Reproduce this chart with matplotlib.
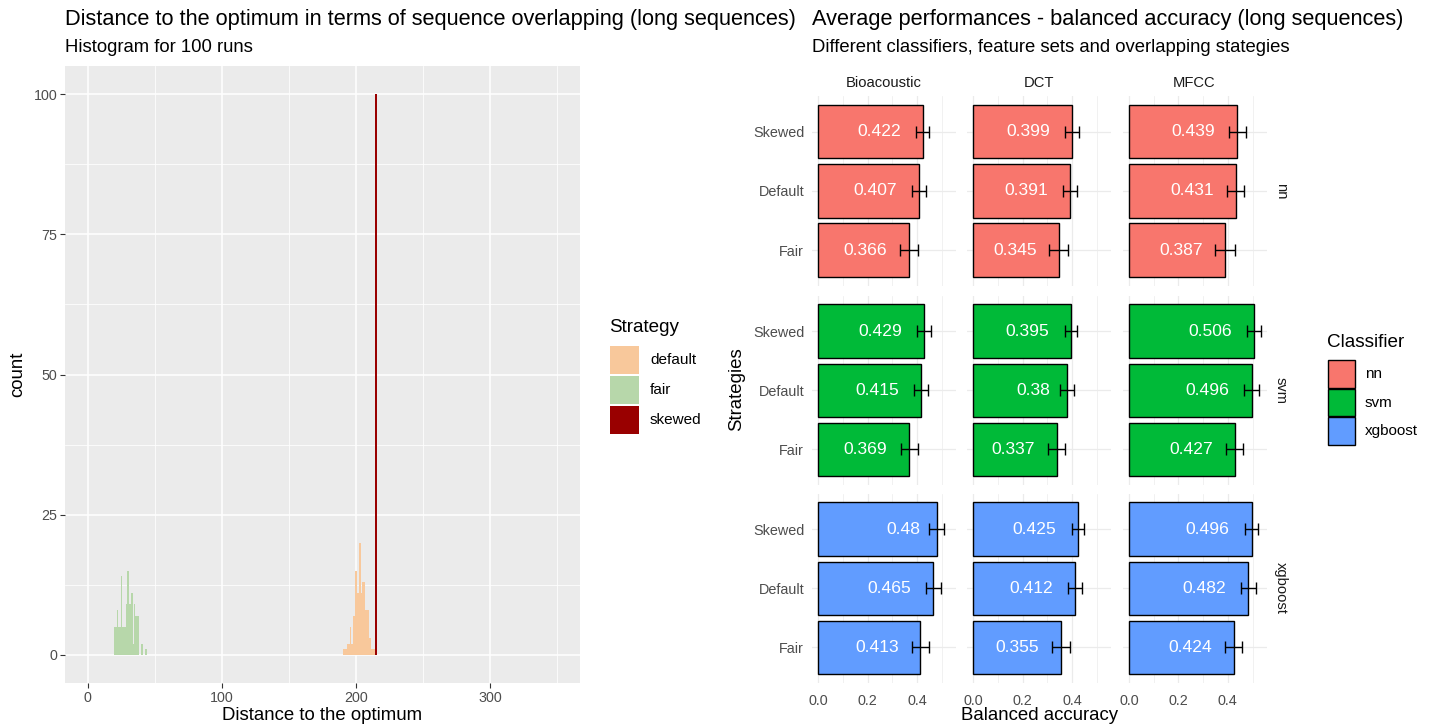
import matplotlib
matplotlib.use('Agg')
import matplotlib.pyplot as plt
from matplotlib.patches import Rectangle

plt.rcParams['font.family'] = ['Liberation Sans', 'DejaVu Sans']

W, H = 1429, 727

# --- histogram: distance to the optimum -> count ---
fair_dist = [20, 21, 22, 23, 24, 25, 26, 27, 28, 29, 30, 31, 32, 33, 34, 35, 36, 37, 38, 40, 41, 43, 44]
fair_count = [5, 5, 8, 5, 5, 14, 5, 5, 5, 9, 15, 9, 9, 11, 2, 9, 7, 7, 7, 2, 2, 1, 1]
default_dist = [191, 192, 193, 194, 195, 196, 197, 198, 199, 200, 201, 202, 203, 204, 205, 206,
                207, 208, 209, 210, 211, 212, 213, 214]
default_count = [1, 1, 1, 2, 2, 5, 2, 7, 7, 15, 11, 11, 20, 11, 13, 13, 8, 8, 8, 3, 3, 1, 1, 1]
skewed_dist = [215]
skewed_count = [100]

# --- balanced accuracy: order Skewed, Default, Fair ---
strategies = ['Skewed', 'Default', 'Fair']
feature_sets = ['Bioacoustic', 'DCT', 'MFCC']
classifiers = ['nn', 'svm', 'xgboost']
nn_acc = [[0.422, 0.407, 0.366], [0.399, 0.391, 0.345], [0.439, 0.431, 0.387]]
nn_err = [[0.028, 0.028, 0.036], [0.027, 0.028, 0.040], [0.034, 0.034, 0.040]]
svm_acc = [[0.429, 0.415, 0.369], [0.395, 0.380, 0.337], [0.506, 0.496, 0.427]]
svm_err = [[0.028, 0.028, 0.035], [0.025, 0.028, 0.035], [0.028, 0.030, 0.035]]
xgb_acc = [[0.480, 0.465, 0.413], [0.425, 0.412, 0.355], [0.496, 0.482, 0.424]]
xgb_err = [[0.030, 0.030, 0.035], [0.025, 0.028, 0.035], [0.025, 0.030, 0.035]]
clf_colors = ['#F8766D', '#00BA38', '#619CFF']


def px_axes(fig, x0, y0, x1, y1):
    return fig.add_axes([x0 / W, 1 - y1 / H, (x1 - x0) / W, (y1 - y0) / H])


def fx(x):
    return x / W


def fy(y):
    return 1 - y / H


fig = plt.figure(figsize=(W / 100, H / 100), dpi=100)
fig.patch.set_facecolor('white')

# ================= left: histogram =================
ax = px_axes(fig, 65, 66, 580, 683)
ax.set_facecolor('#EBEBEB')
ax.bar(fair_dist, fair_count, width=1, color='#B7D7AA', linewidth=0, zorder=2)
ax.bar(default_dist, default_count, width=1, color='#F8C89B', linewidth=0, zorder=2)
ax.bar(skewed_dist, skewed_count, width=1.3, color='#990000', linewidth=0, zorder=3)
ax.set_xlim(-17, 367)
ax.set_ylim(-5, 105)
ax.set_xticks([0, 100, 200, 300])
ax.set_xticks([50, 150, 250, 350], minor=True)
ax.set_yticks([0, 25, 50, 75, 100])
ax.set_yticks([12.5, 37.5, 62.5, 87.5], minor=True)
ax.grid(which='major', color='white', lw=1.1)
ax.grid(which='minor', color='white', lw=0.55)
ax.set_axisbelow(True)
for s in ax.spines.values():
    s.set_visible(False)
ax.tick_params(which='major', length=3.5, color='#333333', labelsize=10.3, labelcolor='#4D4D4D', pad=2)
ax.tick_params(which='minor', length=0)
ax.set_xlabel('Distance to the optimum', fontsize=13.4, labelpad=2)
ax.set_ylabel('count', fontsize=13.4, labelpad=5)

fig.text(fx(65), fy(19), 'Distance to the optimum in terms of sequence overlapping (long sequences)',
         fontsize=15.7, va='center', ha='left')
fig.text(fx(65), fy(48), 'Histogram for 100 runs', fontsize=13.3, va='center', ha='left')

# strategy legend
fig.text(fx(609), fy(328), 'Strategy', fontsize=13.6, va='center')
leg1 = [('default', '#F8C89B'), ('fair', '#B7D7AA'), ('skewed', '#990000')]
for i, (lab, col) in enumerate(leg1):
    top = 346 + i * 30
    fig.add_artist(Rectangle((fx(610), fy(top + 28)), 29 / W, 28 / H, transform=fig.transFigure,
                             facecolor=col, edgecolor='none'))
    fig.text(fx(650), fy(top + 14), lab, fontsize=11, va='center')

# ================= right: faceted bars =================
col_x0 = [811.8, 966.8, 1122.5]
row_y0 = [96.2, 295.5, 493.5]
pw, ph = 144, 189.4
ypos = [3, 2, 1]
all_acc = [nn_acc, svm_acc, xgb_acc]
all_err = [nn_err, svm_err, xgb_err]

labels = []
for r in range(3):
    for c in range(3):
        a = px_axes(fig, col_x0[c], row_y0[r], col_x0[c] + pw, row_y0[r] + ph)
        a.set_facecolor('white')
        vals = all_acc[r][c]
        errs = all_err[r][c]
        a.barh(ypos, vals, height=0.9, color=clf_colors[r], edgecolor='black', lw=1, zorder=2)
        a.errorbar(vals, ypos, xerr=errs, fmt='none', ecolor='black', elinewidth=1,
                   capsize=4.3, capthick=1, zorder=3)
        for v, y in zip(vals, ypos):
            t = a.text(v, y, ('%.3f' % v).rstrip('0'), color='white', fontsize=12.6,
                       ha='center', va='center', zorder=4)
            labels.append((a, t, v, y))
        a.set_xlim(-0.0265, 0.5565)
        a.set_ylim(0.4, 3.6)
        a.set_xticks([0, 0.2, 0.4])
        a.set_xticks([0.1, 0.3, 0.5], minor=True)
        a.set_yticks(ypos)
        a.grid(which='major', color='#EBEBEB', lw=0.9)
        a.grid(which='minor', axis='x', color='#EBEBEB', lw=0.5)
        a.set_axisbelow(True)
        for s in a.spines.values():
            s.set_visible(False)
        a.tick_params(which='both', length=0, labelsize=10.4, labelcolor='#4D4D4D')
        a.tick_params(axis='x', pad=8)
        a.tick_params(axis='y', pad=5.5)
        if c == 0:
            a.set_yticklabels(strategies)
        else:
            a.set_yticklabels([])
        if r == 2:
            a.set_xticklabels(['0.0', '0.2', '0.4'])
        else:
            a.set_xticklabels([])
        if r == 0:
            fig.text(fx(col_x0[c] + pw / 2), fy(83), feature_sets[c], fontsize=10.6,
                     color='#1A1A1A', ha='center', va='center')
    fig.text(fx(1281), fy(row_y0[r] + ph / 2), classifiers[r], fontsize=10.6, color='#1A1A1A',
             rotation=-90, ha='center', va='center')

# value labels sit one text-width to the left of the bar end (hjust 1.5)
fig.canvas.draw()
for a, t, v, y in labels:
    w = t.get_window_extent().width
    xd = a.transData.transform((v, y))[0] - w
    t.set_x(a.transData.inverted().transform((xd, 0))[0])

fig.text(fx(737), fy(389), 'Strategies', fontsize=13.4, rotation=90, ha='center', va='center')
fig.text(fx(1040), fy(716), 'Balanced accuracy', fontsize=13.4, ha='center', va='center')
fig.text(fx(812), fy(19), 'Average performances - balanced accuracy (long sequences)',
         fontsize=15.7, va='center', ha='left')
fig.text(fx(812), fy(48), 'Different classifiers, feature sets and overlapping stategies',
         fontsize=13.3, va='center', ha='left')

# classifier legend
fig.text(fx(1327), fy(343), 'Classifier', fontsize=13.6, va='center')
for i, (lab, col) in enumerate(zip(classifiers, clf_colors)):
    top = 360 + i * 28.7
    fig.add_artist(Rectangle((fx(1327.5), fy(top + 27.5)), 27.5 / W, 27.5 / H,
                             transform=fig.transFigure, facecolor=col, edgecolor='black', lw=1))
    fig.text(fx(1365), fy(top + 14), lab, fontsize=11, va='center')

fig.savefig('out.png', dpi=100)
